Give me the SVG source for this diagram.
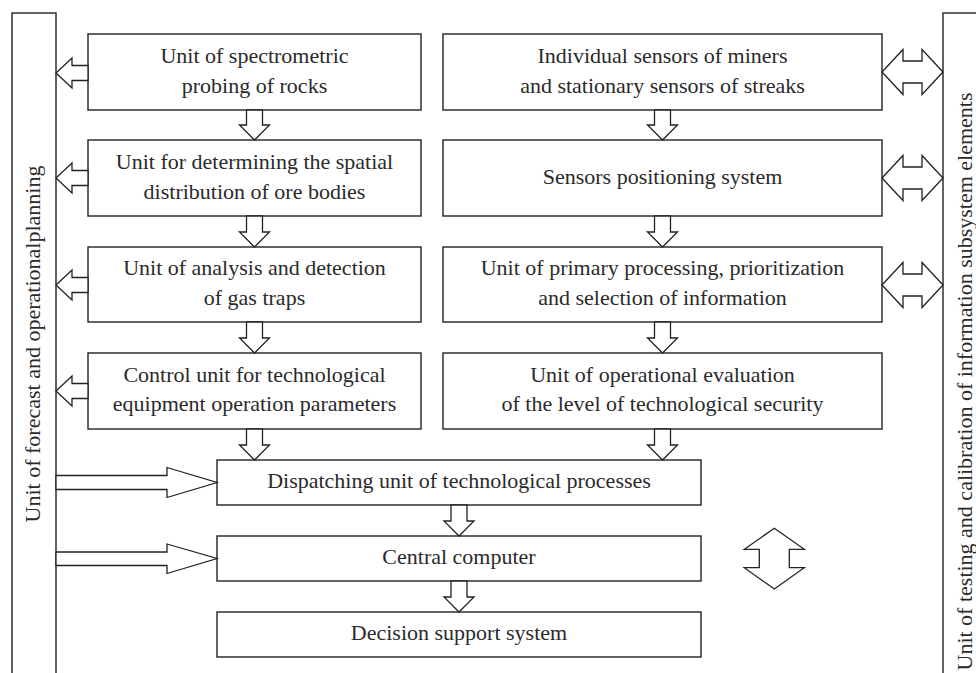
<svg xmlns="http://www.w3.org/2000/svg" width="976" height="673" viewBox="0 0 976 673">
<style>
.box{fill:#fff;stroke:#222;stroke-width:1.4}
.arr{fill:#fff;stroke:#222;stroke-width:1.3;stroke-linejoin:miter}
text{font-family:"Liberation Serif","Times New Roman",serif;font-size:22px;fill:#2a2a2a;text-anchor:middle}
</style>
<rect width="976" height="673" fill="#fff"/>
<g id="forecast-unit">
<rect class="box" x="12" y="13" width="44" height="700"/>
<text transform="translate(40,344) rotate(-90)">Unit of forecast and operationalplanning</text>
</g>
<g id="testing-unit">
<rect class="box" x="943" y="13" width="60" height="700"/>
<text transform="translate(972,381.5) rotate(-90)">Unit of testing and calibration of information subsystem elements</text>
</g>
<g id="spectrometric">
<rect class="box" x="88" y="34" width="333" height="76"/>
<text x="254.5" y="63">Unit of spectrometric</text>
<text x="254.5" y="93">probing of rocks</text>
</g>
<g id="spatial">
<rect class="box" x="88" y="140" width="333" height="76"/>
<text x="254.5" y="169">Unit for determining the spatial</text>
<text x="254.5" y="199">distribution of ore bodies</text>
</g>
<g id="gas-traps">
<rect class="box" x="88" y="247" width="333" height="75"/>
<text x="254.5" y="275">Unit of analysis and detection</text>
<text x="254.5" y="305">of gas traps</text>
</g>
<g id="control-unit">
<rect class="box" x="88" y="353" width="333" height="76"/>
<text x="254.5" y="382">Control unit for technological</text>
<text x="254.5" y="411">equipment operation parameters</text>
</g>
<g id="sensors">
<rect class="box" x="443" y="34" width="439" height="76"/>
<text x="662.5" y="63">Individual sensors of miners</text>
<text x="662.5" y="93">and stationary sensors of streaks</text>
</g>
<g id="positioning">
<rect class="box" x="443" y="140" width="439" height="76"/>
<text x="662.5" y="184">Sensors positioning system</text>
</g>
<g id="primary-processing">
<rect class="box" x="443" y="247" width="439" height="75"/>
<text x="662.5" y="275">Unit of primary processing, prioritization</text>
<text x="662.5" y="305">and selection of information</text>
</g>
<g id="evaluation">
<rect class="box" x="443" y="353" width="439" height="76"/>
<text x="662.5" y="382">Unit of operational evaluation</text>
<text x="662.5" y="411">of the level of technological security</text>
</g>
<g id="dispatching">
<rect class="box" x="217" y="460" width="484" height="45"/>
<text x="459" y="488">Dispatching unit of technological processes</text>
</g>
<g id="central-computer">
<rect class="box" x="217" y="536" width="484" height="45"/>
<text x="459" y="564">Central computer</text>
</g>
<g id="decision-support">
<rect class="box" x="217" y="612" width="484" height="45"/>
<text x="459" y="640">Decision support system</text>
</g>
<g id="connectors">
<!-- left column down arrows -->
<polygon class="arr" points="246.5,110 262.5,110 262.5,125 269.5,125 254.5,140 239.5,125 246.5,125"/>
<polygon class="arr" points="246.5,216 262.5,216 262.5,232 269.5,232 254.5,247 239.5,232 246.5,232"/>
<polygon class="arr" points="246.5,322 262.5,322 262.5,338 269.5,338 254.5,353 239.5,338 246.5,338"/>
<polygon class="arr" points="246.5,429 262.5,429 262.5,445 269.5,445 254.5,460 239.5,445 246.5,445"/>
<!-- right column down arrows -->
<polygon class="arr" points="654.5,110 670.5,110 670.5,125 677.5,125 662.5,140 647.5,125 654.5,125"/>
<polygon class="arr" points="654.5,216 670.5,216 670.5,232 677.5,232 662.5,247 647.5,232 654.5,232"/>
<polygon class="arr" points="654.5,322 670.5,322 670.5,338 677.5,338 662.5,353 647.5,338 654.5,338"/>
<polygon class="arr" points="654.5,429 670.5,429 670.5,445 677.5,445 662.5,460 647.5,445 654.5,445"/>
<!-- bottom chain -->
<polygon class="arr" points="451,505 467,505 467,521 474,521 459,536 444,521 451,521"/>
<polygon class="arr" points="451,581 467,581 467,597 474,597 459,612 444,597 451,597"/>
<!-- left arrows into forecast unit -->
<polygon class="arr" points="88,65.5 72,65.5 72,58 56,73 72,88 72,80.5 88,80.5"/>
<polygon class="arr" points="88,170.5 72,170.5 72,163 56,178 72,193 72,185.5 88,185.5"/>
<polygon class="arr" points="88,277.5 72,277.5 72,270 56,285 72,300 72,292.5 88,292.5"/>
<polygon class="arr" points="88,383.5 72,383.5 72,376 56,391 72,406 72,398.5 88,398.5"/>
<!-- double arrows to testing unit -->
<polygon class="arr" points="882,72 903,49.5 903,61 922,61 922,49.5 943,72 922,94.5 922,83 903,83 903,94.5"/>
<polygon class="arr" points="882,178 903,155.5 903,167 922,167 922,155.5 943,178 922,200.5 922,189 903,189 903,200.5"/>
<polygon class="arr" points="882,285 903,262.5 903,274 922,274 922,262.5 943,285 922,307.5 922,296 903,296 903,307.5"/>
<!-- big right arrows from forecast unit -->
<polygon class="arr" points="56,475.5 167,475.5 167,467.5 217,482.5 167,497.5 167,489.5 56,489.5"/>
<polygon class="arr" points="56,552 167,552 167,544 217,558.5 167,573.5 167,565.5 56,565.5"/>
<!-- vertical double arrow -->
<polygon class="arr" points="774.3,528.3 804.3,549.3 789.3,549.3 789.3,567.7 804.3,567.7 774.3,589 744.3,567.7 759.3,567.7 759.3,549.3 744.3,549.3"/>
</g>
</svg>
